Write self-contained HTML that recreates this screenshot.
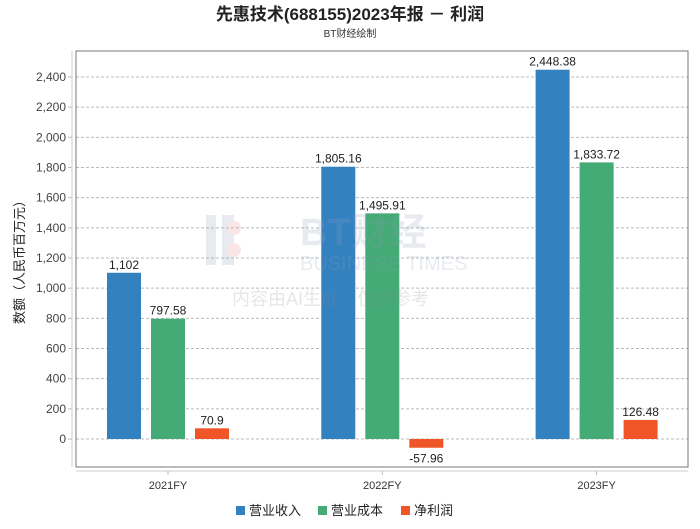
<!DOCTYPE html>
<html><head><meta charset="utf-8"><style>
body{margin:0;background:#fff;font-family:"Liberation Sans","Noto Sans CJK SC",sans-serif;}
svg text{font-family:"Liberation Sans","Noto Sans CJK SC",sans-serif;}
</style></head><body>
<svg id="c" width="700" height="524" xmlns="http://www.w3.org/2000/svg">
<text x="350" y="20" text-anchor="middle" font-size="17" font-weight="bold" fill="#222">先惠技术(688155)2023年报 － 利润</text>
<text x="350" y="37" text-anchor="middle" font-size="10" fill="#333">BT财经绘制</text>
<g id="grid"></g>
<rect x="76" y="51" width="612" height="416" fill="none" stroke="#777"/>
<line x1="72" y1="51" x2="72" y2="467" stroke="#ccc"/>
<line x1="76" y1="471" x2="688" y2="471" stroke="#ccc"/>
<text transform="translate(24,259) rotate(-90)" text-anchor="middle" font-size="13" fill="#222">数额（人民币百万元）</text>
<g id="bars"></g>
<g opacity="0.2">
<rect x="206" y="215" width="10" height="50" fill="#8aa0b8"/>
<rect x="222" y="215" width="12" height="50" fill="#8aa0b8"/>
<circle cx="234" cy="228" r="7" fill="#e88"/>
<circle cx="234" cy="250" r="7" fill="#e88"/>
<text x="300" y="245" font-size="38" font-weight="bold" fill="#8aa0b8" font-family="Liberation Serif,serif">BT财经</text>
<text x="300" y="270" font-size="20" fill="#8aa0b8" font-family="Liberation Serif,serif">BUSINESS TIMES</text>
<text x="232" y="305" font-size="18" fill="#888">内容由AI生成，仅供参考</text>
</g>
<g>
<rect x="236" y="506" width="9" height="9" fill="#3481c0"/>
<text x="249" y="515" font-size="13" fill="#222">营业收入</text>
<rect x="318" y="506" width="9" height="9" fill="#44aa76"/>
<text x="331" y="515" font-size="13" fill="#222">营业成本</text>
<rect x="401" y="506" width="9" height="9" fill="#f05528"/>
<text x="414" y="515" font-size="13" fill="#222">净利润</text>
</g>
</svg>
<script>
const categories=["2021FY","2022FY","2023FY"];
const revenue=[1102,1805.16,2448.38];
const cost=[797.58,1495.91,1833.72];
const profit=[70.9,-57.96,126.48];
const revenueLabels=["1,102","1,805.16","2,448.38"];
const costLabels=["797.58","1,495.91","1,833.72"];
const profitLabels=["70.9","-57.96","126.48"];
const yTicks=[0,200,400,600,800,1000,1200,1400,1600,1800,2000,2200,2400];
const NS="http://www.w3.org/2000/svg";
const y0=439,yTop=77;
function y(v){return y0-(v/2400)*(y0-yTop);}
function cx(i){return 168+i*214.3;}
function mk(t,a,p){const e=document.createElementNS(NS,t);for(const k in a)e.setAttribute(k,a[k]);p.appendChild(e);return e;}
const grid=document.getElementById('grid');
yTicks.forEach(v=>{
 const l=mk('line',{x1:76,x2:688,y1:y(v),y2:y(v),stroke:'#bbb','stroke-dasharray':'3,2'},grid);
 
 
 const tk=mk('line',{x1:68,x2:72,y1:y(v),y2:y(v),stroke:'#bbb'},grid);
 
 
 const t=mk('text',{x:66,y:y(v)+4,'text-anchor':'end','font-size':12,fill:'#444'},grid);
 t.textContent=v.toLocaleString('en-US');
 
 
});
const bars=document.getElementById('bars');
const series=[[revenue,revenueLabels,'#3481c0','revenue'],[cost,costLabels,'#44aa76','cost'],[profit,profitLabels,'#f05528','profit']];
categories.forEach((c,i)=>{
 const tk=mk('line',{x1:cx(i),x2:cx(i),y1:471,y2:475,stroke:'#bbb'},bars);
 
 
 const t=mk('text',{x:cx(i),y:489,'text-anchor':'middle','font-size':11,fill:'#333'},bars);
 t.textContent=c;
 
 
 series.forEach((s,j)=>{
  const v=s[0][i];const x=cx(i)+(j-1)*44-17;
  const top=Math.min(y(v),y0),h=Math.abs(y(v)-y0);
  const r=mk('rect',{x:x,y:top,width:34,height:h,fill:s[2]},bars);
  
  
  const ly=v>=0?y(v)-4:y(v)+15;
  const lt=mk('text',{x:x+17,y:ly,'text-anchor':'middle','font-size':12,fill:'#222'},bars);
  lt.textContent=s[1][i];
  
  
 });
});
</script>
</body></html>
